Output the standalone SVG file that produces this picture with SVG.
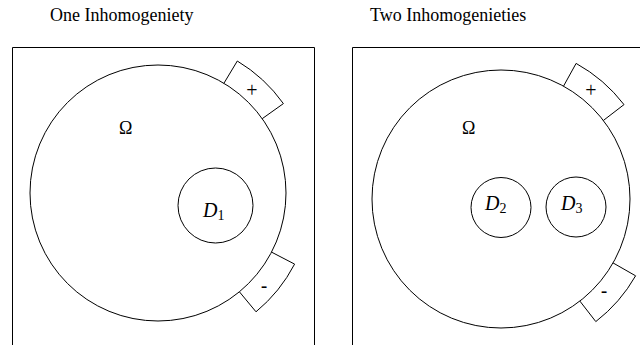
<svg xmlns="http://www.w3.org/2000/svg" width="640" height="345" viewBox="0 0 640 345">
<style>
.ln{fill:none;stroke:#000;stroke-width:1}
.title{font-family:"Liberation Serif",serif;font-size:18px;fill:#000}
.om{font-family:"Liberation Serif",serif;font-size:18px;fill:#000}
.d{font-family:"Liberation Serif",serif;font-style:italic;font-size:20px;fill:#000}
.sub{font-family:"Liberation Serif",serif;font-style:normal;font-size:14px}
.sg{font-family:"Liberation Serif",serif;font-size:20px;fill:#000;text-anchor:middle}
.mn{font-family:"Liberation Sans",sans-serif;font-size:20px;fill:#000;text-anchor:middle}
</style>
<rect width="640" height="345" fill="#fff"/>
<g id="panel-left">
<text class="title" x="50" y="21">One Inhomogeniety</text>
<path class="ln" d="M12.5 346 V47.5 H314.5 V346"/>
</g>
<g id="panel-right">
<text class="title" x="370" y="21">Two Inhomogenieties</text>
<path class="ln" d="M352.5 346 V47.5 H641"/>
</g>
<g id="omega1">
<circle class="ln" cx="158" cy="193" r="128"/>
<text class="om" x="119" y="134">Ω</text>
</g>
<g id="electrode1-plus">
<path class="ln" d="M223.9 83.3 L237.3 61.0 A154 154 0 0 1 283.4 103.6 L262.2 118.7"/>
<text class="sg" x="252" y="97">+</text>
</g>
<g id="electrode1-minus">
<path class="ln" d="M271.5 252.1 L294.6 264.1 A154 154 0 0 1 256.0 311.8 L239.4 291.8"/>
<text class="mn" x="264" y="293">-</text>
</g>
<g id="D1">
<circle class="ln" cx="215.5" cy="205.5" r="37.5"/>
<text class="d" x="203" y="217">D<tspan class="sub" dy="3">1</tspan></text>
</g>
<g id="omega2">
<circle class="ln" cx="501" cy="199" r="129"/>
<text class="om" x="462" y="134">Ω</text>
</g>
<g id="electrode2-plus">
<path class="ln" d="M563.5 86.2 L576.1 63.4 A155 155 0 0 1 624.0 104.6 L603.3 120.5"/>
<text class="sg" x="591" y="97">+</text>
</g>
<g id="electrode2-minus">
<path class="ln" d="M613.0 262.9 L635.6 275.8 A155 155 0 0 1 595.8 321.6 L579.9 301.1"/>
<text class="mn" x="604" y="298">-</text>
</g>
<g id="D2">
<circle class="ln" cx="501" cy="207.5" r="30"/>
<text class="d" x="485" y="210">D<tspan class="sub" dy="3">2</tspan></text>
</g>
<g id="D3">
<circle class="ln" cx="576" cy="207" r="30"/>
<text class="d" x="561" y="210">D<tspan class="sub" dy="3">3</tspan></text>
</g>
</svg>
